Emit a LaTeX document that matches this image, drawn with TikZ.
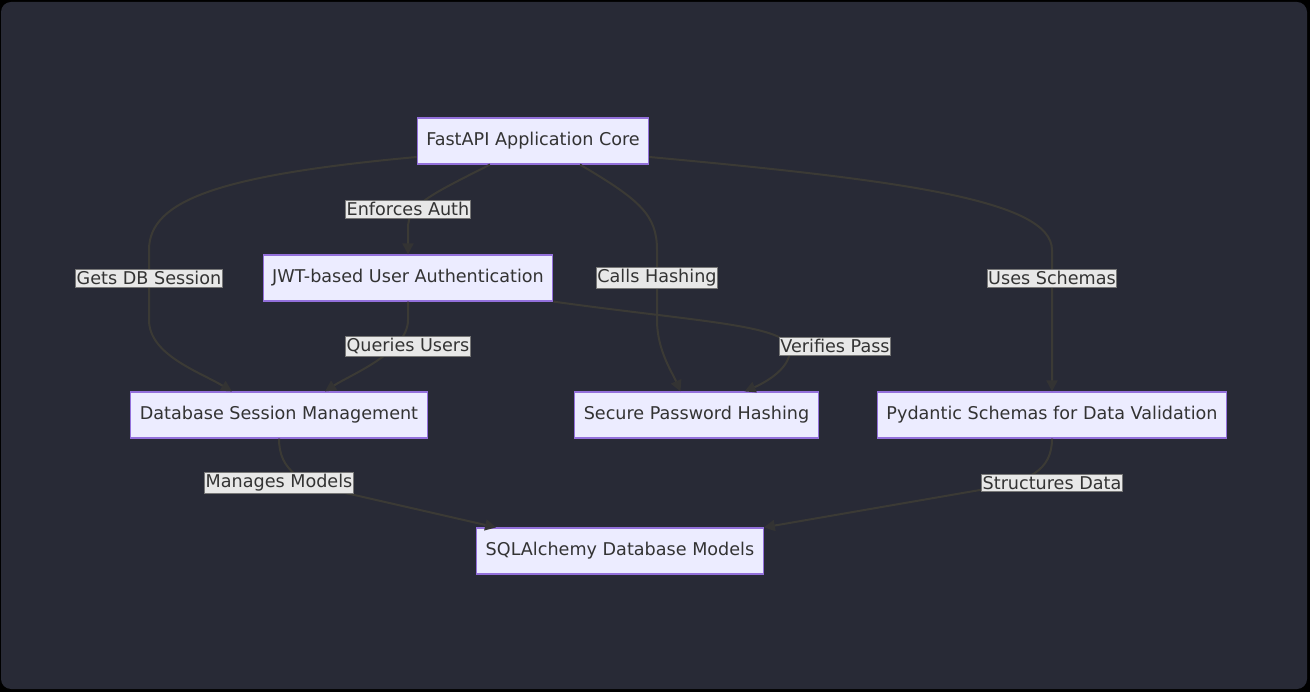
\documentclass[tikz,border=0pt]{standalone}
\usepackage{fontspec}
\setmainfont{DejaVu Sans}
\usetikzlibrary{arrows.meta}
\definecolor{bgc}{HTML}{282A36}
\definecolor{nodefill}{HTML}{ECECFF}
\definecolor{nodeline}{HTML}{9370DB}
\definecolor{txt}{HTML}{333333}
\definecolor{edgec}{HTML}{3B3A35}
\definecolor{tipc}{HTML}{333333}
\definecolor{lblfill}{HTML}{E8E8E8}
\definecolor{lblline}{HTML}{777777}
\tikzset{
  box/.style={draw=nodeline, fill=nodefill, line width=1.2pt, text=txt,
    minimum height=46pt, inner xsep=9pt, font=\fontsize{17.6}{21}\selectfont},
  lbl/.style={draw=lblline, fill=lblfill, line width=0.6pt, text=txt,
    inner xsep=1pt, inner ysep=2pt, font=\fontsize{17.6}{21}\selectfont},
  conn/.style={draw=edgec, line width=2pt,
    -{Triangle[length=11pt,width=11pt,color=tipc]}},
}
\begin{document}
\begin{tikzpicture}[x=1pt,y=-1pt]
\useasboundingbox (0,0) rectangle (1310,692);
\fill[black] (0,0) rectangle (1310,692);
\fill[bgc, rounded corners=10pt] (1,2) rectangle (1307,689);

\node[box] (core) at (533,141) {FastAPI Application Core};
\node[box] (jwt) at (408,278) {JWT-based User Authentication};
\node[box] (db) at (279,415) {Database Session Management};
\node[box] (pw) at (696.5,415) {Secure Password Hashing};
\node[box] (pyd) at (1052,415) {Pydantic Schemas for Data Validation};
\node[box] (sql) at (620,551) {SQLAlchemy Database Models};

% edges
\draw[conn] ([yshift=-16pt]core.west) .. controls (220,175) and (149,200) .. (149,250)
   -- (149,320) .. controls (149,355) and (200,372) .. ([xshift=-47pt]db.north);
\draw[conn] ([xshift=-43pt]core.south) .. controls (430,195) and (408,205) .. (408,228)
   -- (jwt.north);
\draw[conn] ([xshift=47pt]core.south) .. controls (640,200) and (657,215) .. (657,250)
   -- (657,320) .. controls (657,350) and (672,372) .. ([xshift=-16pt]pw.north);
\draw[conn] ([yshift=-16pt]core.east) .. controls (900,180) and (1052,200) .. (1052,250)
   -- (pyd.north);
\draw[conn] (jwt.south) -- (408,320) .. controls (408,352) and (350,375) .. ([xshift=46pt]db.north);
\draw[conn] (jwt.south east) .. controls (700,322) and (790,325) .. (790,350)
   .. controls (790,370) and (762,384) .. ([xshift=48pt]pw.north);
\draw[conn] (db.south) .. controls (279,470) and (300,485) .. (350,494)
   -- ([xshift=20pt]sql.north west);
\draw[conn] (pyd.south) .. controls (1052,470) and (1030,482) .. (980,490)
   -- (sql.north east);

% labels
\node[lbl] (l1) at (149,278) {Gets DB Session};
\node[lbl] (l2) at (408,209) {Enforces Auth};
\node[lbl] (l3) at (657,278) {Calls Hashing};
\node[lbl] (l4) at (1052,278) {Uses Schemas};
\node[lbl] (l5) at (408,346) {Queries Users};
\node[lbl] (l6) at (835,346) {Verifies Pass};
\node[lbl] (l7) at (279,483) {Manages Models};
\node[lbl] (l8) at (1052,483) {Structures Data};
\end{tikzpicture}
\end{document}
